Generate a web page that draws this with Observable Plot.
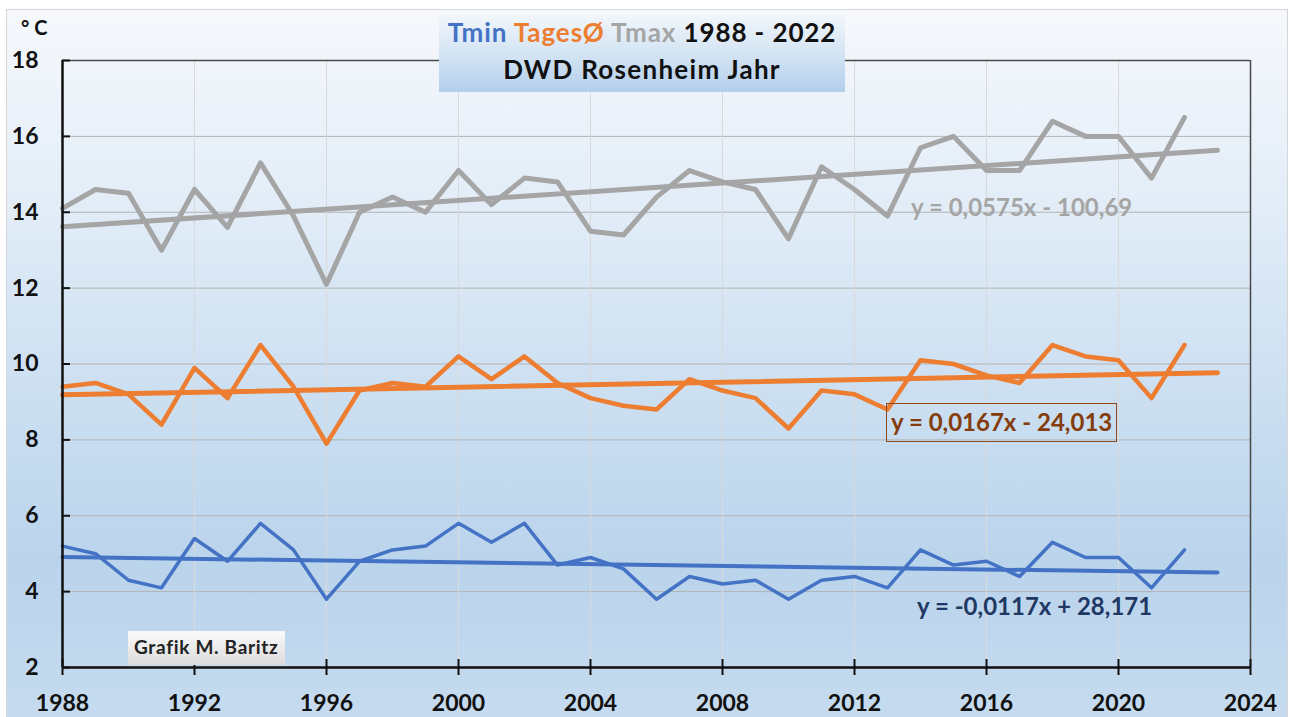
<!DOCTYPE html>
<html>
<head>
<meta charset="utf-8">
<script src="https://cdn.jsdelivr.net/npm/d3@7"></script>
<script src="https://cdn.jsdelivr.net/npm/@observablehq/plot@0.6"></script>
<style>
  html, body { margin: 0; padding: 0; background: #ffffff; }
  #wrap { position: relative; width: 1290px; height: 717px; overflow: hidden; font-family: Lato, "Open Sans", sans-serif; }
  #bg { position: absolute; left: 6px; top: 9px; width: 1280px; height: 712px; border: 1px solid #d6d6d6;
        background: linear-gradient(to bottom, #f6f8fc 0%, #e4eef8 25%, #cfe1f2 50%, #bad4ec 78%, #c6dbef 100%); }
  #chart { position: absolute; left: 0; top: 0; }
  .lbl { position: absolute; white-space: nowrap; font-weight: 700; line-height: 1.2; }
  #titlebox { position: absolute; left: 439px; top: 15px; width: 406px; height: 77px;
              background: linear-gradient(to bottom, #f1f6fb 0%, #d4e4f4 50%, #b3cfeb 100%); }
  #t1 { position: absolute; left: 0; width: 406px; text-align: center; top: 2px; font-size: 26px; letter-spacing: 0.9px; font-weight: 700; line-height: 1.2; white-space: nowrap; color: #111; }
  #t2 { position: absolute; left: 0; width: 406px; text-align: center; top: 39px; font-size: 26px; letter-spacing: 1.3px; font-weight: 700; line-height: 1.2; white-space: nowrap; color: #111; }
  #eqbox { position: absolute; left: 886px; top: 403px; width: 229px; height: 37px; border: 1.5px solid #8e4a1c; }
  #credit { position: absolute; left: 128px; top: 631px; width: 157px; height: 34px;
            background: linear-gradient(to bottom, #fafafa, #dcdcdc); }
</style>
</head>
<body>
<div id="wrap">
  <div id="bg"></div>
  <div id="chart"></div>
  <div id="titlebox">
    <div id="t1"><span style="color:#4472c4">Tmin</span> <span style="color:#ed7d31">TagesØ</span> <span style="color:#a5a5a5">Tmax</span> 1988 - 2022</div>
    <div id="t2">DWD Rosenheim Jahr</div>
  </div>
  <div class="lbl" style="left:21px; top:15px; font-size:20px; color:#111;">° C</div>
  <div class="lbl" style="left:911px; top:193px; font-size:24px; color:#a5a5a5;">y = 0,0575x - 100,69</div>
  <div id="eqbox"></div>
  <div class="lbl" style="left:891px; top:408px; font-size:24px; color:#843c0c;">y = 0,0167x - 24,013</div>
  <div class="lbl" style="left:917px; top:592px; font-size:24px; color:#1f3864;">y = -0,0117x + 28,171</div>
  <div id="credit"></div>
  <div class="lbl" style="left:134px; top:636px; font-size:19px; letter-spacing: 0.7px; color:#222;">Grafik M. Baritz</div>
</div>
<script>
// ---- data ----
const years = [1988,1989,1990,1991,1992,1993,1994,1995,1996,1997,1998,1999,2000,2001,2002,2003,2004,2005,
               2006,2007,2008,2009,2010,2011,2012,2013,2014,2015,2016,2017,2018,2019,2020,2021,2022];
const tmax  = [14.1,14.6,14.5,13.0,14.6,13.6,15.3,13.9,12.1,14.0,14.4,14.0,15.1,14.2,14.9,14.8,13.5,13.4,
               14.4,15.1,14.8,14.6,13.3,15.2,14.6,13.9,15.7,16.0,15.1,15.1,16.4,16.0,16.0,14.9,16.5];
const tmean = [9.4,9.5,9.2,8.4,9.9,9.1,10.5,9.4,7.9,9.3,9.5,9.4,10.2,9.6,10.2,9.5,9.1,8.9,
               8.8,9.6,9.3,9.1,8.3,9.3,9.2,8.8,10.1,10.0,9.7,9.5,10.5,10.2,10.1,9.1,10.5];
const tmin  = [5.2,5.0,4.3,4.1,5.4,4.8,5.8,5.1,3.8,4.8,5.1,5.2,5.8,5.3,5.8,4.7,4.9,4.6,
               3.8,4.4,4.2,4.3,3.8,4.3,4.4,4.1,5.1,4.7,4.8,4.4,5.3,4.9,4.9,4.1,5.1];
// linear trend equations (as printed in the chart): [slope, intercept]
const trendTmax  = [0.0575, -100.69];
const trendTmean = [0.0167, -24.013];
const trendTmin  = [-0.0117, 28.171];
const trendYears = [1988, 2023];
const xTicks = [1988,1992,1996,2000,2004,2008,2012,2016,2020,2024];
const yTicks = [2,4,6,8,10,12,14,16,18];

const colors = { tmin: "#4472c4", tmean: "#ed7d31", tmax: "#a5a5a5" };

const rows = (vals) => years.map((yr, i) => ({ year: yr, v: vals[i] }));
const trendRows = (t) => trendYears.map(yr => ({ year: yr, v: t[0] * yr + t[1] }));

const W = 1290, H = 717, mL = 62, mR = 40, mT = 60, mB = 50;
const innerW = W - mL - mR, innerH = H - mT - mB;

const chart = Plot.plot({
  width: W, height: H,
  marginLeft: mL, marginRight: mR, marginTop: mT, marginBottom: mB,
  style: { background: "transparent", fontFamily: "Lato, 'Open Sans', sans-serif", overflow: "visible" },
  x: { domain: [1988, 2024] },
  y: { domain: [2, 18] },
  marks: [
    Plot.gridY(yTicks, { stroke: "#b3b3b3", strokeOpacity: 1, strokeWidth: 1 }),
    Plot.gridX(xTicks, { stroke: "#d9d9d9", strokeOpacity: 1, strokeWidth: 1 }),
    Plot.ruleY([18], { stroke: "#4a4a4a", strokeWidth: 1.5 }),
    Plot.ruleX([2024], { stroke: "#4a4a4a", strokeWidth: 1.5 }),
    // data series
    Plot.line(rows(tmax),  { x: "year", y: "v", stroke: colors.tmax,  strokeWidth: 5,   strokeLinejoin: "round" }),
    Plot.line(trendRows(trendTmax),  { x: "year", y: "v", stroke: colors.tmax,  strokeWidth: 5 }),
    Plot.line(rows(tmean), { x: "year", y: "v", stroke: colors.tmean, strokeWidth: 4.5, strokeLinejoin: "round" }),
    Plot.line(trendRows(trendTmean), { x: "year", y: "v", stroke: colors.tmean, strokeWidth: 5 }),
    Plot.line(rows(tmin),  { x: "year", y: "v", stroke: colors.tmin,  strokeWidth: 3.5, strokeLinejoin: "round" }),
    Plot.line(trendRows(trendTmin),  { x: "year", y: "v", stroke: colors.tmin,  strokeWidth: 4 }),
    // axes
    Plot.ruleX([1988], { stroke: "#111", strokeWidth: 2.5 }),
    Plot.ruleY([2], { stroke: "#111", strokeWidth: 2.5 }),
    Plot.tickY(yTicks, { y: d => d, insetRight: innerW - 8, stroke: "#111", strokeWidth: 2 }),
    Plot.tickX(xTicks, { x: d => d, insetTop: innerH - 8, insetBottom: -8, stroke: "#111", strokeWidth: 2 }),
    Plot.axisY(yTicks, { tickSize: 0, tickPadding: 24, fontSize: 23, fontWeight: "bold", fill: "#111", tickFormat: "d", label: null }),
    Plot.axisX(xTicks, { tickSize: 0, tickPadding: 27, fontSize: 23, fontWeight: "bold", fill: "#111", tickFormat: "d", label: null })
  ]
});
document.getElementById("chart").appendChild(chart);
</script>
</body>
</html>
